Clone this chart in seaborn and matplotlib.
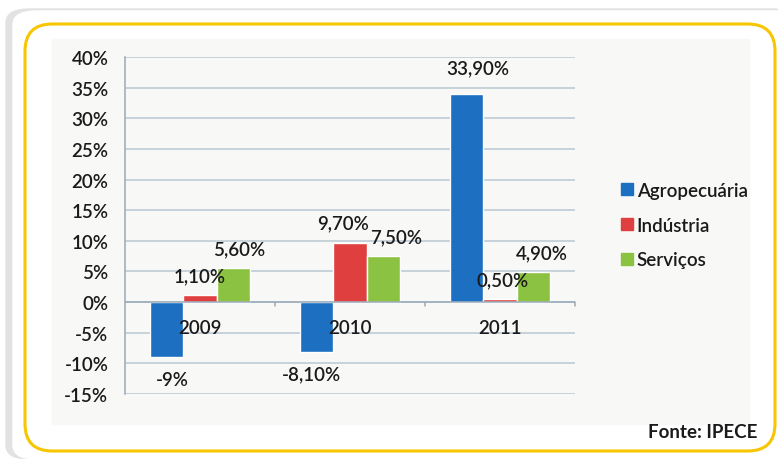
import matplotlib
matplotlib.use("Agg")
import matplotlib.pyplot as plt
import seaborn as sns
import pandas as pd
from matplotlib.patches import FancyBboxPatch, Rectangle
from matplotlib.lines import Line2D

years = ["2009", "2010", "2011"]
sectors = ["Agropecuária", "Indústria", "Serviços"]
agro = [-9.0, -8.1, 33.9]
industria = [1.1, 9.7, 0.5]
servicos = [5.6, 7.5, 4.9]
agro_labels = ["-9%", "-8,10%", "33,90%"]
ind_labels = ["1,10%", "9,70%", "0,50%"]
serv_labels = ["5,60%", "7,50%", "4,90%"]
yticks = [-15, -10, -5, 0, 5, 10, 15, 20, 25, 30, 35, 40]
source = "Fonte: IPECE"

colors = ["#1c6fc1", "#e03f3f", "#8cc242"]
FS = 13.5
TXT = "#1a1a1a"

df = pd.DataFrame({
    "ano": years * 3,
    "setor": [s for s in sectors for _ in years],
    "valor": agro + industria + servicos,
})
labels = agro_labels + ind_labels + serv_labels

sns.set_theme(style="white")
plt.rcParams["font.family"] = ["Lato", "DejaVu Sans"]
plt.rcParams["font.weight"] = "semibold"

fig = plt.figure(figsize=(7.78, 4.60), dpi=100)
W, H = 778, 460

# card background, shadow and yellow rounded frame
fig.patches.append(Rectangle((0, 0), 1, 1, transform=fig.transFigure, color="white", zorder=-10))
fig.patches.append(FancyBboxPatch((6 / W, 0), 790 / W, 450 / H, boxstyle="round,pad=0,rounding_size=0.03",
                                  transform=fig.transFigure, color="#e2e2e2", zorder=-9))
fig.patches.append(FancyBboxPatch((13 / W, 0), 790 / W, 448 / H, boxstyle="round,pad=0,rounding_size=0.03",
                                  transform=fig.transFigure, color="white", zorder=-8))
fig.patches.append(FancyBboxPatch((25 / W, 8 / H), 750 / W, 427 / H, boxstyle="round,pad=0,rounding_size=0.035",
                                  transform=fig.transFigure, facecolor="none", edgecolor="#f7c600",
                                  lw=2.2, zorder=-7, mutation_aspect=W / H))
fig.patches.append(Rectangle((52 / W, 35 / H), 697 / W, 385 / H, transform=fig.transFigure,
                             color="#f8f8f6", zorder=-6))

ax = fig.add_axes([125 / W, 65 / H, 450 / W, 337 / H])
ax.set_facecolor("none")
sns.barplot(data=df, x="ano", y="valor", hue="setor", palette=colors, ax=ax,
            width=0.67, saturation=1, legend=False, zorder=3)

ax.set_ylim(-15, 40)
ax.set_xlim(-0.5, 2.5)
ax.set_yticks(yticks)
ax.set_yticklabels([f"{t}%" for t in yticks], fontsize=FS, color=TXT)
ax.yaxis.grid(True, color="#b9c7d3", lw=1.1, zorder=0)
ax.tick_params(axis="y", length=7, color="#b9c7d3", width=1.1, pad=5)
ax.set_xticks([])
ax.set_xlabel("")
ax.set_ylabel("")
for s in ["top", "right", "bottom"]:
    ax.spines[s].set_visible(False)
ax.spines["left"].set_color("#9aaab8")
ax.spines["left"].set_linewidth(1.1)

# category axis at zero
ax.axhline(0, color="#9aaab8", lw=1.1, zorder=4)
for xb in [0.5, 1.5, 2.5]:
    ax.plot([xb, xb], [0, -0.7], color="#9aaab8", lw=1.1, zorder=4, clip_on=False)
for i, y in enumerate(years):
    ax.annotate(y, (i, 0), xytext=(0, -18), textcoords="offset points", ha="center", va="center",
                fontsize=FS, color=TXT, zorder=6)

# data labels
dx = [4, -4, 8, 0, -5, 2, 4, 9, 6]
k = 0
for cont in ax.containers:
    for bar in cont:
        v = bar.get_height() if bar.get_y() >= 0 else bar.get_y()
        xc = bar.get_x() + bar.get_width() / 2
        dy = 14 if v >= 0 else -16
        if abs(v) > 20:
            dy = 19
        ax.annotate(labels[k], (xc, v), xytext=(dx[k], dy), textcoords="offset points",
                    ha="center", va="center", fontsize=FS, color=TXT, zorder=6)
        k += 1

handles = [Line2D([], [], marker="s", ls="", markersize=8, markerfacecolor=c, markeredgecolor=c)
           for c in colors]
fig.legend(handles, sectors, loc="center left", bbox_to_anchor=(603 / W, 1 - 226 / H),
           frameon=False, fontsize=FS, handletextpad=0.1, labelspacing=0.95, handlelength=0.8,
           labelcolor=TXT)

fig.text(757 / W, 1 - 433 / H, source, ha="right", va="center", fontsize=FS,
         fontweight="bold", color=TXT)

fig.savefig("out.png", dpi=100)
